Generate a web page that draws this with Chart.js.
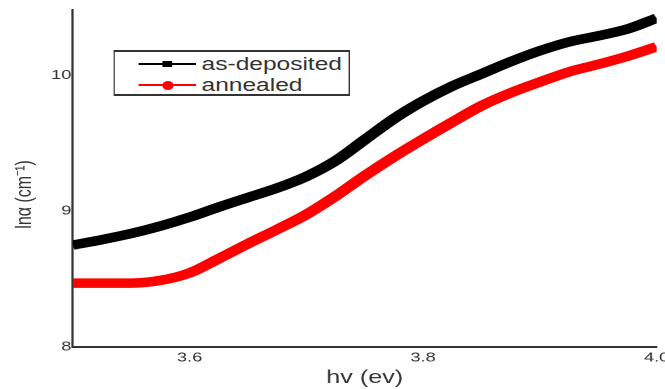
<!DOCTYPE html>
<html>
<head>
<meta charset="utf-8">
<title>lnα vs hv</title>
<script src="https://cdn.jsdelivr.net/npm/chart.js@4.4.1/dist/chart.umd.min.js"></script>
<style>
  html, body { margin: 0; padding: 0; background: #fff; overflow: hidden; }
  /* the plot is laid out narrow and stretched sideways, like the printed figure */
  #wrap {
    position: relative;
    width: 475px;
    height: 389px;
    transform: scaleX(1.4);
    transform-origin: 0 0;
  }
  #chart { width: 475px; height: 389px; display: block; }
  #legend {
    position: absolute;
    left: 81px;
    top: 50px;
    width: 169px;
    height: 46px;
    box-sizing: border-box;
    border: 2px solid #333;
    border-left-width: 1.5px;
    border-right-width: 1.5px;
    background: #fff;
  }
  .leg-line, .leg-mark, .leg-text { position: absolute; }
  .leg-text {
    font-family: "Liberation Sans", Arial, sans-serif;
    font-size: 17.5px;
    line-height: 20px;
    color: #333;
    white-space: nowrap;
  }
</style>
</head>
<body>
<div id="wrap">
  <canvas id="chart" width="475" height="389"></canvas>
  <div id="legend"></div>
</div>
<script>
// ===== Data =====
const energy = [3.500, 3.525, 3.550, 3.575, 3.600, 3.625, 3.650, 3.675, 3.700, 3.725, 3.750,
                3.775, 3.800, 3.825, 3.850, 3.875, 3.900, 3.925, 3.950, 3.975, 4.000];
const asDeposited = [8.75, 8.79, 8.835, 8.89, 8.955, 9.03, 9.10, 9.17, 9.255, 9.37, 9.525,
                     9.68, 9.81, 9.92, 10.01, 10.10, 10.18, 10.245, 10.29, 10.34, 10.42];
const annealed = [8.47, 8.47, 8.47, 8.49, 8.545, 8.65, 8.76, 8.865, 8.975, 9.11, 9.26,
                  9.40, 9.53, 9.655, 9.775, 9.87, 9.95, 10.025, 10.08, 10.14, 10.21];
const xTicks = [3.6, 3.8, 4.0];
const yTicks = [8, 9, 10];
const seriesNames = ['as-deposited', 'annealed'];
const seriesColors = ['#000000', '#ff0000'];
const seriesMarks = ['rect', 'circle'];

const FONT = '"Liberation Sans", Arial, sans-serif';
const INK = '#333';

const toPoints = ys => energy.map((x, i) => ({ x: x, y: ys[i] }));

// ===== Chart =====
new Chart(document.getElementById('chart'), {
  type: 'line',
  data: {
    datasets: [asDeposited, annealed].map((ys, i) => ({
      label: seriesNames[i],
      data: toPoints(ys),
      borderColor: seriesColors[i],
      backgroundColor: seriesColors[i],
      borderWidth: 9.5,
      pointRadius: 0,
      cubicInterpolationMode: 'monotone',
      clip: 0
    }))
  },
  options: {
    responsive: false,
    animation: false,
    devicePixelRatio: 2,
    layout: { padding: { top: 10, right: 6, left: 0, bottom: 0 } },
    plugins: { legend: { display: false }, tooltip: { enabled: false } },
    scales: {
      x: {
        type: 'linear',
        min: 3.5,
        max: 4.0,
        grid: { display: false, drawTicks: false },
        border: { display: true, color: INK, width: 2 },
        ticks: {
          font: { family: FONT, size: 13 },
          color: INK,
          padding: 3,
          maxRotation: 0,
          callback: v => v.toFixed(1)
        },
        afterBuildTicks: s => { s.ticks = xTicks.map(v => ({ value: v })); },
        afterFit: s => { s.height = 42; s.paddingLeft = 0; s.paddingRight = 0; },
        title: {
          display: true,
          text: 'hv (ev)',
          font: { family: FONT, size: 18 },
          color: INK,
          padding: { top: 0, bottom: 0 }
        }
      },
      y: {
        min: 8,
        max: 10.48,
        grid: { display: false, drawTicks: false },
        border: { display: true, color: INK, width: 1.6 },
        ticks: {
          font: { family: FONT, size: 13 },
          color: INK,
          padding: 1
        },
        afterBuildTicks: s => { s.ticks = yTicks.map(v => ({ value: v })); },
        afterFit: s => { s.width = 52; s.paddingTop = 0; s.paddingBottom = 0; },
        title: {
          display: true,
          // trailing em spaces push the rotated title a little below the middle
          text: 'lnα (cm⁻¹)\u2003\u2003',
          font: { family: FONT, size: 16 },
          color: INK,
          padding: { top: 8, bottom: 0 }
        }
      }
    }
  }
});

// ===== Legend box =====
const legend = document.getElementById('legend');
const rowY = [12, 33];   // row centres inside the box
seriesNames.forEach((name, i) => {
  const line = document.createElement('div');
  line.className = 'leg-line';
  Object.assign(line.style, {
    left: '17px', top: (rowY[i] - 0.75) + 'px', width: '41px', height: '1.5px',
    background: seriesColors[i]
  });
  const mark = document.createElement('div');
  mark.className = 'leg-mark';
  const w = seriesMarks[i] === 'rect' ? 7.5 : 8;
  const h = seriesMarks[i] === 'rect' ? 6.5 : 9;
  Object.assign(mark.style, {
    left: (37.5 - w / 2) + 'px', top: (rowY[i] - h / 2) + 'px',
    width: w + 'px', height: h + 'px', background: seriesColors[i],
    borderRadius: seriesMarks[i] === 'circle' ? '50%' : '0'
  });
  const text = document.createElement('div');
  text.className = 'leg-text';
  text.textContent = name;
  Object.assign(text.style, { left: '62px', top: (rowY[i] - 10.5) + 'px' });
  legend.append(line, mark, text);
});
</script>
</body>
</html>
